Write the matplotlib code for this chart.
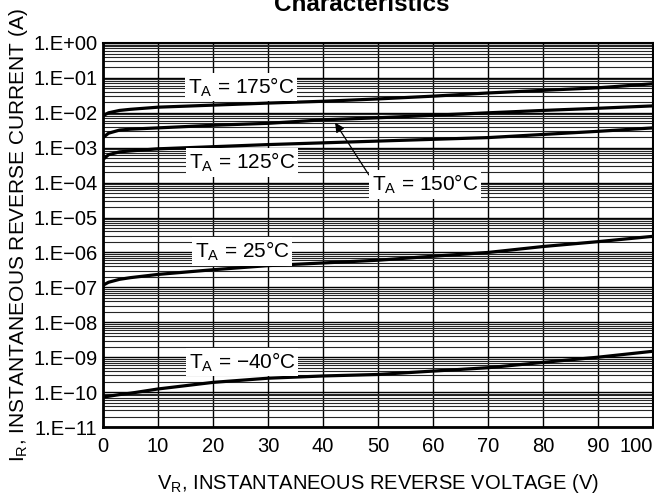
import numpy as np
import matplotlib
matplotlib.use("Agg")
import matplotlib.pyplot as plt
from matplotlib.ticker import LogLocator, FixedLocator

plt.rcParams["font.family"] = ["Liberation Sans", "DejaVu Sans"]
plt.rcParams["mathtext.default"] = "regular"

# reverse voltage (V)
v_r = [0, 1, 3, 5, 10, 20, 30, 40, 50, 60, 70, 80, 90, 100]

# reverse current (A) per junction temperature
i_175 = [8.3e-3, 1.0e-2, 1.17e-2, 1.26e-2, 1.45e-2, 1.66e-2, 1.9e-2, 2.14e-2,
         2.5e-2, 3.0e-2, 3.7e-2, 4.4e-2, 5.2e-2, 6.8e-2]
i_150 = [1.95e-3, 2.6e-3, 3.2e-3, 3.4e-3, 3.7e-3, 4.4e-3, 5.0e-3, 6.3e-3,
         7.2e-3, 8.5e-3, 1.0e-2, 1.17e-2, 1.35e-2, 1.58e-2]
i_125 = [4.6e-4, 6.3e-4, 7.6e-4, 8.1e-4, 9.3e-4, 1.07e-3, 1.23e-3, 1.38e-3,
         1.55e-3, 1.74e-3, 1.95e-3, 2.4e-3, 2.95e-3, 3.7e-3]
i_25 = [1.15e-7, 1.4e-7, 1.7e-7, 1.9e-7, 2.35e-7, 3.2e-7, 4.2e-7, 5.0e-7,
        6.0e-7, 7.8e-7, 1.0e-6, 1.48e-6, 2.04e-6, 2.9e-6]
i_m40 = [7.2e-11, 7.6e-11, 8.5e-11, 9.3e-11, 1.23e-10, 1.9e-10, 2.5e-10, 2.9e-10,
         3.2e-10, 4.0e-10, 5.0e-10, 7.1e-10, 1.0e-9, 1.48e-9]

x_ticks = [0, 10, 20, 30, 40, 50, 60, 70, 80, 90, 100]
y_ticks = [10.0 ** e for e in range(-11, 1)]
y_labels = ["1.E\u221211", "1.E\u221210", "1.E\u221209", "1.E\u221208", "1.E\u221207",
            "1.E\u221206", "1.E\u221205", "1.E\u221204", "1.E\u221203", "1.E\u221202",
            "1.E\u221201", "1.E+00"]

fig = plt.figure(figsize=(6.54, 4.97), dpi=100)
ax = fig.add_axes([0.1575, 0.1408, 0.841, 0.7727])

for cur in [i_175, i_150, i_125, i_25, i_m40]:
    ax.plot(v_r, cur, color="black", lw=2.3, solid_capstyle="butt", zorder=3)

ax.set_yscale("log")
ax.set_xlim(0, 100)
ax.set_ylim(1e-11, 1)
ax.xaxis.set_major_locator(FixedLocator(x_ticks))
ax.set_xticklabels([str(t) for t in x_ticks])
ax.set_yticks(y_ticks)
ax.set_yticklabels(y_labels)
ax.yaxis.set_minor_locator(LogLocator(base=10, subs=np.arange(2, 10), numticks=100))
ax.yaxis.set_minor_formatter(plt.NullFormatter())
ax.tick_params(which="both", length=0, labelsize=14.5)
ax.tick_params(axis="x", pad=7)
ax.tick_params(axis="y", pad=4)
ax.get_xticklabels()[-1].set_horizontalalignment("right")

ax.grid(True, which="major", axis="both", color="black", lw=1.0, zorder=1)
ax.grid(True, which="minor", axis="y", color="0.15", lw=0.8, zorder=1)
for s in ax.spines.values():
    s.set_linewidth(1.5)
ax.spines["left"].set_linewidth(2)
ax.spines["bottom"].set_linewidth(2)

box = dict(facecolor="white", edgecolor="none", pad=2)
lab_kw = dict(fontsize=15, ha="center", va="center", bbox=box, zorder=4)
ax.text(25.1, 10 ** -1.26, "T$_A$ = 175\u00b0C", **lab_kw)
ax.text(25.3, 10 ** -3.43, "T$_A$ = 125\u00b0C", **lab_kw)
ax.text(25.3, 10 ** -5.97, "T$_A$ = 25\u00b0C", **lab_kw)
ax.text(25.3, 10 ** -9.14, "T$_A$ = \u221240\u00b0C", **lab_kw)
ax.annotate("T$_A$ = 150\u00b0C", xy=(42.2, 10 ** -2.28), xytext=(58.5, 10 ** -4.06),
            fontsize=15, ha="center", va="center", bbox=box, zorder=4,
            arrowprops=dict(arrowstyle="-|>", color="black", lw=0.9,
                            shrinkA=0, shrinkB=0, mutation_scale=14,
                            relpos=(0.02, 0.6)))

ax.set_xlabel("V$_R$, INSTANTANEOUS REVERSE VOLTAGE (V)", fontsize=14.5, labelpad=12)
ax.set_ylabel("I$_R$, INSTANTANEOUS REVERSE CURRENT (A)", fontsize=15, labelpad=2)

fig.text(0.553, 1 - 11 / 497, "Characteristics", fontsize=17.5, fontweight="bold",
         ha="center", va="baseline")

fig.savefig("out.png", dpi=100)
